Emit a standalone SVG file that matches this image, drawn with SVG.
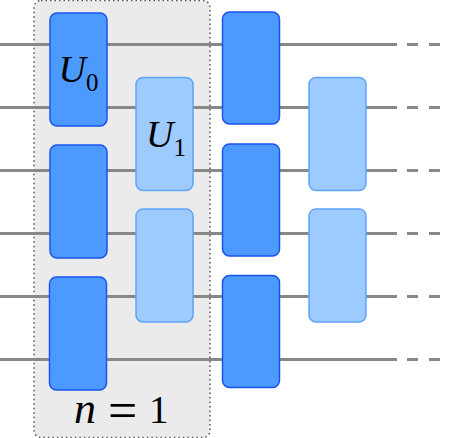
<svg xmlns="http://www.w3.org/2000/svg" width="449" height="438" viewBox="0 0 449 438">
<style>
.w{stroke:#888;stroke-width:3;fill:none}
.d{stroke:#888;stroke-width:3;fill:none;stroke-dasharray:11 11}
.a{fill:#4d9aff;stroke:#1a53f0;stroke-width:1.5}
.b{fill:#9ecbff;stroke:#5fa4fa;stroke-width:1.5}
.t{font-family:"Liberation Serif","DejaVu Serif",serif;fill:#000}
.i{font-style:italic}
</style>
<rect id="group-n1" x="34" y="0.5" width="176" height="437" rx="7" fill="#ebebeb" stroke="#555" stroke-width="1.5" stroke-dasharray="1.5 3"/>
<g id="connectors">
<path class="w" d="M0 44.5H397M0 107.5H397M0 170.5H397M0 233.5H397M0 296.5H397M0 359.5H397"/>
<path class="d" d="M407 44.5H440M407 107.500H440M407 170.5H440M407 233.5H440M407 296.5H440M407 359.5H440"/>
</g>
<g id="u0"><rect class="a" x="50" y="13" width="57" height="113" rx="7"/>
<text class="t i" x="58.500" y="82" font-size="38">U</text><text class="t" x="86" y="91" font-size="25">0</text></g>
<g id="a2"><rect class="a" x="50" y="145" width="57" height="113" rx="7"/></g>
<g id="a3"><rect class="a" x="49.500" y="277" width="57" height="113" rx="7"/></g>
<g id="u1"><rect class="b" x="136" y="77.500" width="57" height="113" rx="7"/>
<text class="t i" x="146" y="147" font-size="38">U</text><text class="t" x="173.500" y="155.500" font-size="25">1</text></g>
<g id="b2"><rect class="b" x="136" y="209" width="57" height="113" rx="7"/></g>
<g id="c1"><rect class="a" x="222.500" y="12" width="57" height="112" rx="7"/></g>
<g id="c2"><rect class="a" x="222.500" y="144" width="57" height="112" rx="7"/></g>
<g id="c3"><rect class="a" x="222.500" y="275.500" width="57" height="112" rx="7"/></g>
<g id="d1"><rect class="b" x="309" y="77.500" width="57" height="113" rx="7"/></g>
<g id="d2"><rect class="b" x="309" y="209" width="57" height="113" rx="7"/></g>
<g id="label-n"><text class="t" y="423" font-size="39"><tspan class="i" x="74" font-size="44">n</tspan><tspan x="108" y="428" font-size="52">=</tspan><tspan x="149" y="423">1</tspan></text></g>
</svg>
